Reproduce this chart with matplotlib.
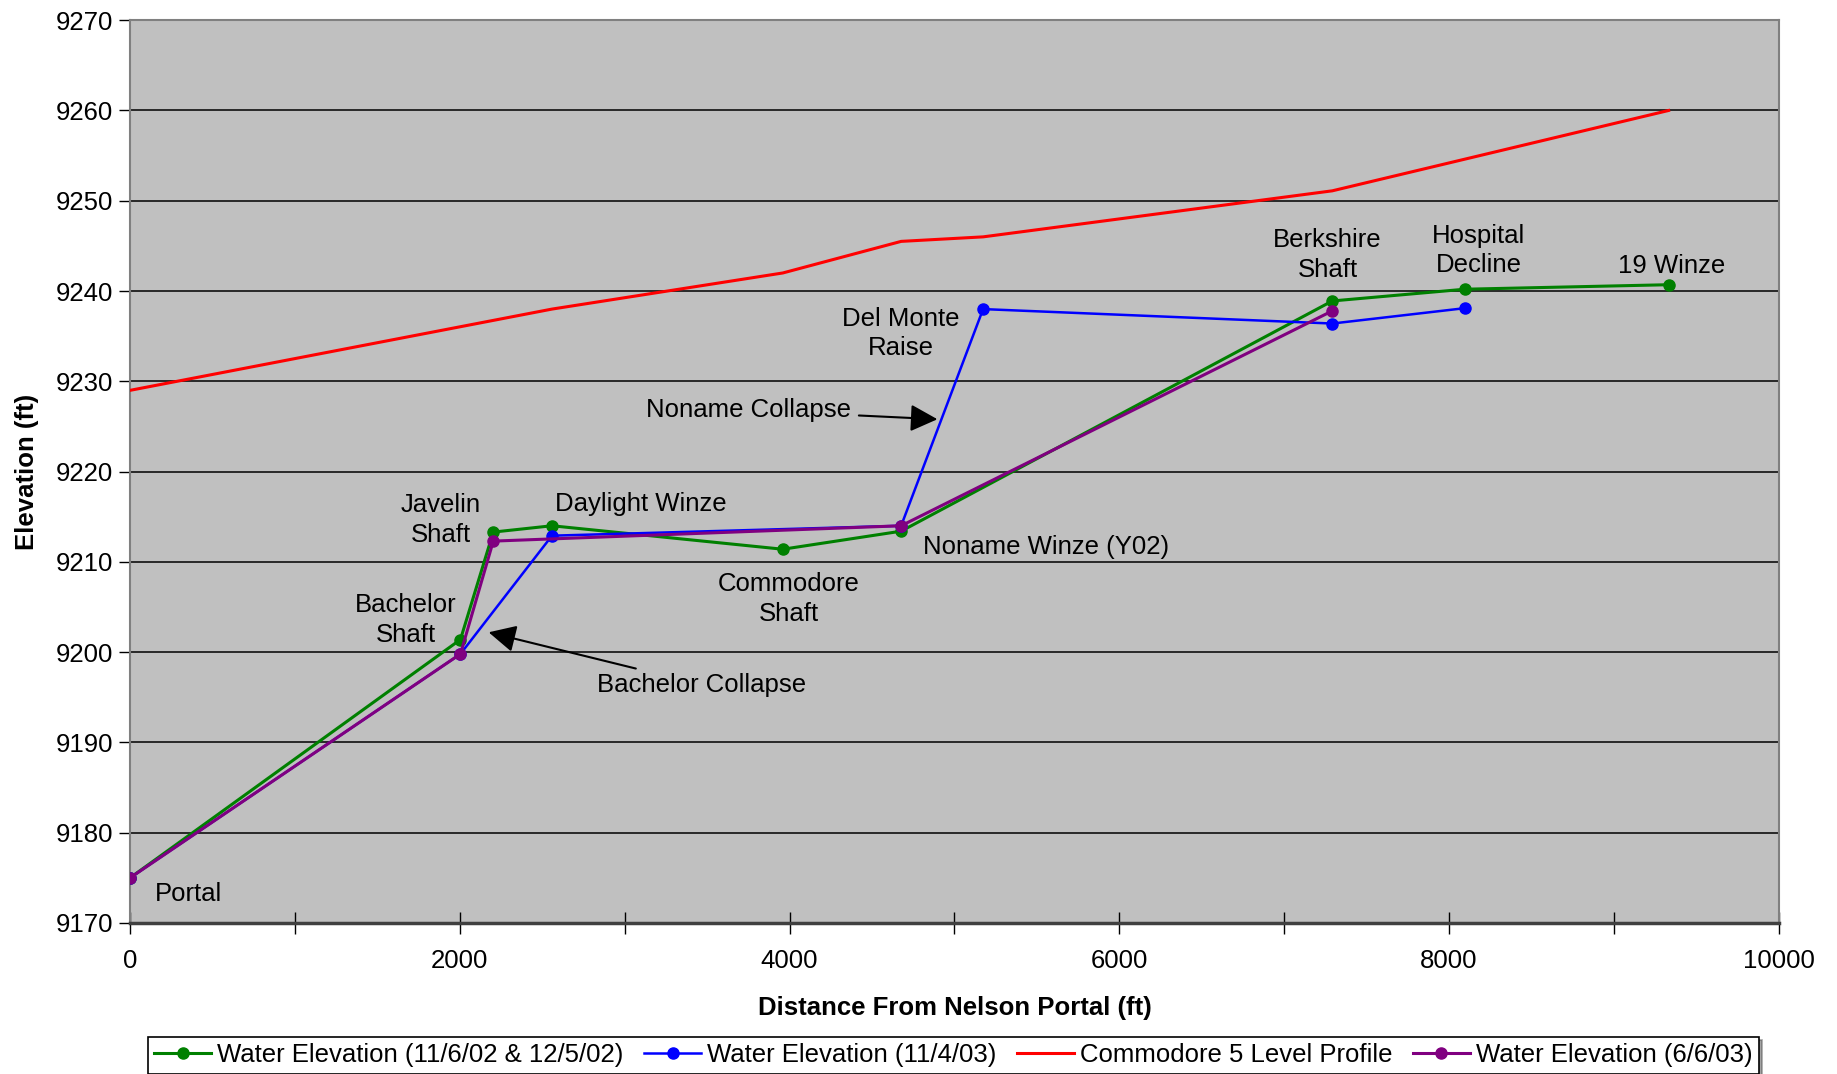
import matplotlib.pyplot as plt

plt.rcParams['font.family'] = ['Liberation Sans', 'DejaVu Sans']

# distance from Nelson portal (ft) and water / level elevations (ft)
green_x = [0, 2004, 2203, 2559, 3959, 4677, 7292, 8095, 9332]
green_y = [9175.0, 9201.4, 9213.3, 9214.0, 9211.4, 9213.4, 9238.9, 9240.2, 9240.7]

blue_x = [0, 2004, 2559, 4677, 5174, 7292, 8095]
blue_y = [9175.0, 9199.8, 9212.9, 9214.0, 9238.0, 9236.4, 9238.1]

red_x = [0, 2559, 3959, 4677, 5174, 7292, 9332]
red_y = [9229.0, 9238.0, 9242.0, 9245.5, 9246.0, 9251.1, 9260.0]

purple_x = [0, 2004, 2203, 4677, 7292]
purple_y = [9175.0, 9199.8, 9212.3, 9214.0, 9237.8]

series_labels = [
    'Water Elevation (11/6/02 & 12/5/02)',
    'Water Elevation (11/4/03)',
    'Commodore 5 Level Profile',
    'Water Elevation (6/6/03)',
]

# label text, position (data coords), horizontal alignment
site_labels = [
    ('Portal', 150, 9173.2, 'left'),
    ('Bachelor\nShaft', 1670, 9203.6, 'center'),
    ('Javelin\nShaft', 1883, 9214.6, 'center'),
    ('Daylight Winze', 3099, 9216.4, 'center'),
    ('Commodore\nShaft', 3994, 9205.9, 'center'),
    ('Noname Winze (Y02)', 5558, 9211.7, 'center'),
    ('Del Monte\nRaise', 4676, 9235.3, 'center'),
    ('Berkshire\nShaft', 7263, 9244.0, 'center'),
    ('Hospital\nDecline', 8180, 9244.5, 'center'),
    ('19 Winze', 9353, 9242.8, 'center'),
]

FS = 18.5

fig = plt.figure(figsize=(18.37, 10.74), dpi=100)
ax = fig.add_axes([0.0708, 0.1406, 0.8975, 0.8406])
ax.set_facecolor('#c0c0c0')

ax.plot(green_x, green_y, color='#008000', lw=2.2, marker='o', ms=8, label=series_labels[0], zorder=3)
ax.plot(blue_x, blue_y, color='#0000ff', lw=1.8, marker='o', ms=8, label=series_labels[1], zorder=3)
ax.plot(red_x, red_y, color='#ff0000', lw=2.2, label=series_labels[2], zorder=3)
ax.plot(purple_x, purple_y, color='#800080', lw=2.2, marker='o', ms=8, label=series_labels[3], zorder=4)

for text, x, y, ha in site_labels:
    ax.text(x, y, text, ha=ha, va='center', fontsize=FS, linespacing=1.3, zorder=5)

arrow = dict(arrowstyle='-|>,head_length=0.9,head_width=0.45', color='black', lw=1.5,
             shrinkA=4, shrinkB=0)
ax.annotate('Noname Collapse', xy=(4897, 9225.8), xytext=(4370, 9226.8),
            ha='right', va='center', fontsize=FS, arrowprops=arrow, zorder=5)
ax.annotate('Bachelor Collapse', xy=(2175, 9202.2), xytext=(2830, 9196.4),
            ha='left', va='center', fontsize=FS, arrowprops=arrow, zorder=5)

ax.set_xlim(0, 10000)
ax.set_ylim(9170, 9270)
ax.set_xticks(range(0, 10001, 2000))
ax.set_xticks(range(0, 10001, 1000), minor=True)
ax.set_yticks(range(9170, 9271, 10))
ax.yaxis.grid(True, color='black', lw=1.1)
ax.set_axisbelow(True)

ax.tick_params(axis='x', which='both', direction='inout', length=16, width=1, labelsize=FS, pad=11)
ax.tick_params(axis='y', length=8, width=1, labelsize=FS, pad=4)

for side in ['left', 'right', 'top']:
    ax.spines[side].set_color('#808080')
    ax.spines[side].set_linewidth(1.5)
ax.spines['bottom'].set_color('#404040')
ax.spines['bottom'].set_linewidth(2.5)

ax.set_xlabel('Distance From Nelson Portal (ft)', fontsize=FS, fontweight='bold', labelpad=16)
ax.set_ylabel('Elevation (ft)', fontsize=FS, fontweight='bold', labelpad=12)

leg = ax.legend(loc='upper center', bbox_to_anchor=(0.4995, -0.126), ncol=4, fontsize=FS,
                frameon=True, fancybox=False, shadow=True, edgecolor='black',
                handlelength=2.2, handletextpad=0.25, columnspacing=0.8,
                borderpad=0.25, borderaxespad=0)
leg.get_frame().set_linewidth(1.2)

fig.savefig('out.png', dpi=100)
